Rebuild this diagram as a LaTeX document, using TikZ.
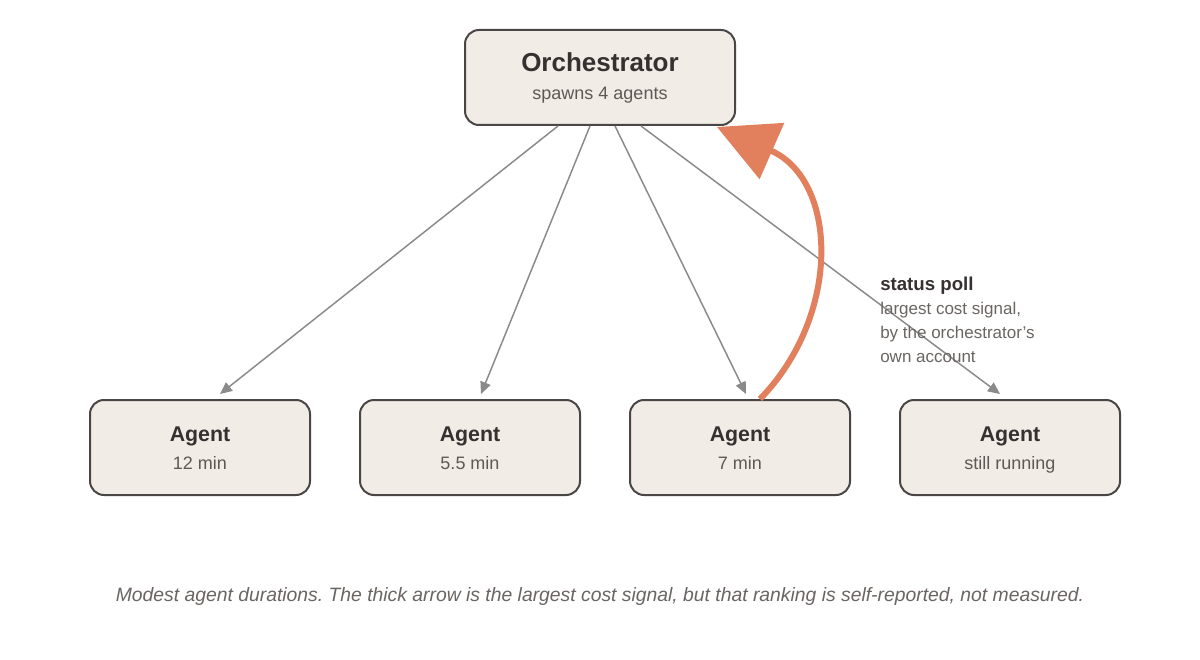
\documentclass[tikz,border=0pt]{standalone}
\usepackage{fontspec}
\setmainfont{Liberation Sans}
\usepackage{xcolor}
\usetikzlibrary{arrows.meta,calc}
\definecolor{boxfill}{HTML}{F1ECE6}
\definecolor{boxline}{HTML}{4A4646}
\definecolor{titletext}{HTML}{363130}
\definecolor{subtext}{HTML}{5E5956}
\definecolor{notetext}{HTML}{6A6562}
\definecolor{flowgray}{HTML}{8A8A8A}
\definecolor{pollorange}{HTML}{E2805E}
\newcommand{\boxtitle}[2]{{\fontsize{#1}{21}\selectfont\bfseries\color{titletext}#2}}

\begin{document}
\begin{tikzpicture}
    [x=0.75pt, y=-0.75pt,
     box/.style={draw=boxline, line width=1.5pt, fill=boxfill, rounded corners=10.5pt,
                 minimum width=165pt, minimum height=71.25pt, align=center, inner sep=0pt,
                 font=\fontsize{13.5}{21}\selectfont, text=subtext},
     flow/.style={draw=flowgray, line width=1.1pt, -{Triangle[length=9pt,width=8pt]}},
     poll/.style={draw=pollorange, line width=4.5pt, -{Triangle[length=45pt,width=45pt]}}]
    \fill[white] (0,0) rectangle (1200,660);
    \useasboundingbox (0,0) rectangle (1200,660);
    % orchestrator and its agents
    \node[box, minimum width=202.5pt] (orch) at (600,77.5)
        {\boxtitle{19.5}{Orchestrator}\\ spawns 4 agents\vphantom{g}};
    \node[box] (a1) at (200,447.5) {\boxtitle{16}{\rule{0pt}{15pt}Agent}\\ 12 min\vphantom{g}};
    \node[box] (a2) at (470,447.5) {\boxtitle{16}{\rule{0pt}{15pt}Agent}\\ 5.5 min\vphantom{g}};
    \node[box] (a3) at (740,447.5) {\boxtitle{16}{\rule{0pt}{15pt}Agent}\\ 7 min\vphantom{g}};
    \node[box] (a4) at (1010,447.5) {\boxtitle{16}{\rule{0pt}{15pt}Agent}\\ still running};
    \draw[flow] ($(orch.south)+(-42,0)$) -- ($(a1.north)+(20,-5)$);
    \draw[flow] ($(orch.south)+(-10,0)$) -- ($(a2.north)+(11,-5)$);
    \draw[flow] ($(orch.south)+(15,0)$) -- ($(a3.north)+(6,-5)$);
    \draw[flow] ($(orch.south)+(41,0)$) -- ($(a4.north)+(-10,-5)$);
    % status poll back to the orchestrator
    \draw[poll] ($(a3.north)+(20,0)$) .. controls (842,315) and (838,180) .. ($(orch.south east)+(-19,1)$);
    \node[anchor=north west, align=left, inner sep=0pt, text=notetext,
          font=\fontsize{12.75}{18}\selectfont] (note) at (880,277)
        {{\fontsize{14}{22}\selectfont\bfseries\color{titletext}status poll}\\
         largest cost signal,\\ by the orchestrator's\\ own account};
    \node[text=notetext, font=\fontsize{14.5}{18}\selectfont\itshape] (caption) at (600,596)
        {\frenchspacing Modest agent durations. The thick arrow is the largest cost signal, but that ranking is self-reported, not measured.};
\end{tikzpicture}
\end{document}
